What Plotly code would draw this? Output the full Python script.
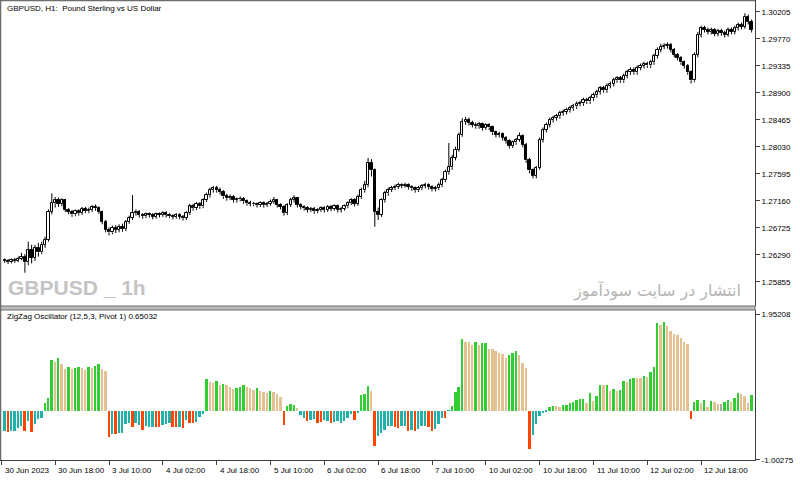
import plotly.graph_objects as go

# ---------------- data ----------------
closes = [
    1.2619, 1.2617, 1.2620, 1.2619, 1.2622, 1.2625, 1.2617, 1.2637, 1.2624, 1.2640,
    1.2633, 1.2645, 1.2653, 1.2698, 1.2712, 1.2717, 1.2711, 1.2717, 1.2701, 1.2698,
    1.2694, 1.2699, 1.2696, 1.2703, 1.2699, 1.2701, 1.2706, 1.2704, 1.2698, 1.2682,
    1.2669, 1.2665, 1.2672, 1.2669, 1.2674, 1.2670, 1.2682, 1.2688, 1.2696, 1.2698,
    1.2693, 1.2691, 1.2694, 1.2693, 1.2690, 1.2694, 1.2693, 1.2696, 1.2693, 1.2691,
    1.2690, 1.2693, 1.2690, 1.2688, 1.2696, 1.2707, 1.2704, 1.2711, 1.2707, 1.2717,
    1.2725, 1.2733, 1.2736, 1.2733, 1.2730, 1.2723, 1.2720, 1.2722, 1.2717, 1.2718,
    1.2719, 1.2715, 1.2712, 1.2711, 1.2710, 1.2709, 1.2712, 1.2709, 1.2711, 1.2714,
    1.2717, 1.2709, 1.2706, 1.2696, 1.2709, 1.2717, 1.2720, 1.2709, 1.2706, 1.2704,
    1.2701, 1.2703, 1.2699, 1.2701, 1.2704, 1.2701, 1.2706, 1.2703, 1.2707, 1.2701,
    1.2703, 1.2707, 1.2712, 1.2717, 1.2711, 1.2722, 1.2733, 1.2741, 1.2777, 1.2765,
    1.2698, 1.2693, 1.2717, 1.2728, 1.2733, 1.2736, 1.2738, 1.2741, 1.2740, 1.2741,
    1.2738, 1.2736, 1.2733, 1.2736, 1.2740, 1.2741, 1.2738, 1.2735, 1.2736, 1.2741,
    1.2749, 1.2762, 1.2770, 1.2785, 1.2798, 1.2822, 1.2843, 1.2846, 1.2841, 1.2838,
    1.2836, 1.2839, 1.2833, 1.2838, 1.2834, 1.2826, 1.2822, 1.2823, 1.2817, 1.2812,
    1.2804, 1.2810, 1.2814, 1.2820, 1.2806, 1.2781, 1.2765, 1.2756, 1.2769, 1.2814,
    1.2830, 1.2838, 1.2846, 1.2849, 1.2852, 1.2857, 1.2859, 1.2862, 1.2865, 1.2868,
    1.2872, 1.2873, 1.2878, 1.2876, 1.2881, 1.2886, 1.2891, 1.2897, 1.2894, 1.2901,
    1.2904, 1.2910, 1.2913, 1.2910, 1.2917, 1.2923, 1.2927, 1.2923, 1.2930, 1.2933,
    1.2936, 1.2934, 1.2939, 1.2949, 1.2959, 1.2964, 1.2966, 1.2967, 1.2959, 1.2951,
    1.2946, 1.2939, 1.2933, 1.2923, 1.2910, 1.2951, 1.2983, 1.2994, 1.2991, 1.2988,
    1.2991, 1.2985, 1.2989, 1.2986, 1.2983, 1.2991, 1.2988, 1.2994, 1.2999, 1.2996,
    1.3012, 1.3004, 1.2991,
]

opens = [
    1.2620, 1.2619, 1.2617, 1.2620, 1.2619, 1.2622, 1.2625, 1.2617, 1.2637, 1.2624,
    1.2640, 1.2633, 1.2645, 1.2653, 1.2698, 1.2712, 1.2717, 1.2711, 1.2717, 1.2701,
    1.2698, 1.2694, 1.2699, 1.2696, 1.2703, 1.2699, 1.2701, 1.2706, 1.2704, 1.2698,
    1.2682, 1.2669, 1.2665, 1.2672, 1.2669, 1.2674, 1.2670, 1.2682, 1.2688, 1.2696,
    1.2698, 1.2693, 1.2691, 1.2694, 1.2693, 1.2690, 1.2694, 1.2693, 1.2696, 1.2693,
    1.2691, 1.2690, 1.2693, 1.2690, 1.2688, 1.2696, 1.2707, 1.2704, 1.2711, 1.2707,
    1.2717, 1.2725, 1.2733, 1.2736, 1.2733, 1.2730, 1.2723, 1.2720, 1.2722, 1.2717,
    1.2718, 1.2719, 1.2715, 1.2712, 1.2711, 1.2710, 1.2709, 1.2712, 1.2709, 1.2711,
    1.2714, 1.2717, 1.2709, 1.2706, 1.2696, 1.2709, 1.2717, 1.2720, 1.2709, 1.2706,
    1.2704, 1.2701, 1.2703, 1.2699, 1.2701, 1.2704, 1.2701, 1.2706, 1.2703, 1.2707,
    1.2701, 1.2703, 1.2707, 1.2712, 1.2717, 1.2711, 1.2722, 1.2733, 1.2741, 1.2777,
    1.2765, 1.2698, 1.2693, 1.2717, 1.2728, 1.2733, 1.2736, 1.2738, 1.2741, 1.2740,
    1.2741, 1.2738, 1.2736, 1.2733, 1.2736, 1.2740, 1.2741, 1.2738, 1.2735, 1.2736,
    1.2741, 1.2749, 1.2762, 1.2770, 1.2785, 1.2798, 1.2822, 1.2843, 1.2846, 1.2841,
    1.2838, 1.2836, 1.2839, 1.2833, 1.2838, 1.2834, 1.2826, 1.2822, 1.2823, 1.2817,
    1.2812, 1.2804, 1.2810, 1.2814, 1.2820, 1.2806, 1.2781, 1.2765, 1.2756, 1.2769,
    1.2814, 1.2830, 1.2838, 1.2846, 1.2849, 1.2852, 1.2857, 1.2859, 1.2862, 1.2865,
    1.2868, 1.2872, 1.2873, 1.2878, 1.2876, 1.2881, 1.2886, 1.2891, 1.2897, 1.2894,
    1.2901, 1.2904, 1.2910, 1.2913, 1.2910, 1.2917, 1.2923, 1.2927, 1.2923, 1.2930,
    1.2933, 1.2936, 1.2934, 1.2939, 1.2949, 1.2959, 1.2964, 1.2966, 1.2967, 1.2959,
    1.2951, 1.2946, 1.2939, 1.2933, 1.2923, 1.2910, 1.2951, 1.2983, 1.2994, 1.2991,
    1.2988, 1.2991, 1.2985, 1.2989, 1.2986, 1.2983, 1.2991, 1.2988, 1.2994, 1.2999,
    1.2996, 1.3012, 1.3004,
]

highs = [
    1.2623, 1.2622, 1.2623, 1.2624, 1.2626, 1.2632, 1.2630, 1.2650, 1.2645, 1.2645,
    1.2648, 1.2650, 1.2658, 1.2702, 1.2728, 1.2722, 1.2721, 1.2720, 1.2719, 1.2704,
    1.2701, 1.2702, 1.2702, 1.2706, 1.2706, 1.2705, 1.2709, 1.2710, 1.2707, 1.2700,
    1.2685, 1.2673, 1.2676, 1.2677, 1.2678, 1.2679, 1.2685, 1.2692, 1.2725, 1.2702,
    1.2701, 1.2696, 1.2697, 1.2697, 1.2696, 1.2697, 1.2697, 1.2699, 1.2699, 1.2696,
    1.2694, 1.2696, 1.2696, 1.2693, 1.2699, 1.2711, 1.2711, 1.2714, 1.2714, 1.2720,
    1.2729, 1.2737, 1.2740, 1.2740, 1.2737, 1.2733, 1.2727, 1.2726, 1.2725, 1.2721,
    1.2723, 1.2722, 1.2718, 1.2716, 1.2714, 1.2713, 1.2715, 1.2715, 1.2714, 1.2718,
    1.2722, 1.2719, 1.2712, 1.2709, 1.2712, 1.2721, 1.2725, 1.2722, 1.2712, 1.2709,
    1.2707, 1.2706, 1.2706, 1.2704, 1.2707, 1.2707, 1.2709, 1.2709, 1.2710, 1.2710,
    1.2706, 1.2710, 1.2715, 1.2720, 1.2720, 1.2726, 1.2737, 1.2748, 1.2785, 1.2783,
    1.2768, 1.2705, 1.2720, 1.2732, 1.2737, 1.2740, 1.2742, 1.2745, 1.2744, 1.2745,
    1.2744, 1.2741, 1.2739, 1.2740, 1.2743, 1.2745, 1.2744, 1.2741, 1.2740, 1.2745,
    1.2753, 1.2766, 1.2809, 1.2790, 1.2803, 1.2826, 1.2849, 1.2851, 1.2850, 1.2845,
    1.2842, 1.2843, 1.2842, 1.2841, 1.2841, 1.2837, 1.2829, 1.2827, 1.2826, 1.2820,
    1.2815, 1.2813, 1.2817, 1.2826, 1.2823, 1.2809, 1.2785, 1.2768, 1.2772, 1.2818,
    1.2834, 1.2842, 1.2850, 1.2853, 1.2856, 1.2861, 1.2863, 1.2866, 1.2869, 1.2872,
    1.2876, 1.2877, 1.2882, 1.2882, 1.2885, 1.2890, 1.2895, 1.2901, 1.2901, 1.2905,
    1.2908, 1.2914, 1.2917, 1.2917, 1.2921, 1.2927, 1.2931, 1.2931, 1.2934, 1.2937,
    1.2940, 1.2940, 1.2943, 1.2953, 1.2963, 1.2969, 1.2970, 1.2971, 1.2970, 1.2962,
    1.2954, 1.2949, 1.2942, 1.2936, 1.2926, 1.2955, 1.2988, 1.2998, 1.2998, 1.2995,
    1.2995, 1.2994, 1.2993, 1.2993, 1.2990, 1.2995, 1.2995, 1.2998, 1.3003, 1.3003,
    1.3018, 1.3016, 1.3008,
]

lows = [
    1.2616, 1.2614, 1.2615, 1.2616, 1.2617, 1.2620, 1.2600, 1.2612, 1.2615, 1.2619,
    1.2626, 1.2630, 1.2640, 1.2650, 1.2694, 1.2705, 1.2706, 1.2707, 1.2698, 1.2694,
    1.2690, 1.2691, 1.2692, 1.2693, 1.2696, 1.2696, 1.2698, 1.2700, 1.2695, 1.2678,
    1.2665, 1.2660, 1.2662, 1.2664, 1.2665, 1.2666, 1.2667, 1.2679, 1.2685, 1.2692,
    1.2689, 1.2687, 1.2688, 1.2689, 1.2686, 1.2687, 1.2689, 1.2690, 1.2689, 1.2688,
    1.2686, 1.2687, 1.2686, 1.2684, 1.2685, 1.2693, 1.2700, 1.2701, 1.2703, 1.2704,
    1.2714, 1.2721, 1.2729, 1.2729, 1.2726, 1.2719, 1.2716, 1.2717, 1.2713, 1.2713,
    1.2715, 1.2711, 1.2708, 1.2707, 1.2707, 1.2705, 1.2706, 1.2705, 1.2706, 1.2708,
    1.2711, 1.2705, 1.2702, 1.2692, 1.2693, 1.2706, 1.2713, 1.2705, 1.2702, 1.2700,
    1.2697, 1.2698, 1.2695, 1.2696, 1.2698, 1.2697, 1.2698, 1.2699, 1.2700, 1.2697,
    1.2697, 1.2700, 1.2704, 1.2709, 1.2707, 1.2708, 1.2719, 1.2729, 1.2738, 1.2755,
    1.2674, 1.2685, 1.2690, 1.2713, 1.2724, 1.2730, 1.2733, 1.2735, 1.2736, 1.2737,
    1.2734, 1.2732, 1.2729, 1.2730, 1.2733, 1.2736, 1.2734, 1.2731, 1.2731, 1.2733,
    1.2738, 1.2746, 1.2758, 1.2766, 1.2781, 1.2795, 1.2819, 1.2838, 1.2837, 1.2834,
    1.2832, 1.2832, 1.2829, 1.2830, 1.2830, 1.2822, 1.2818, 1.2818, 1.2813, 1.2808,
    1.2800, 1.2801, 1.2806, 1.2811, 1.2802, 1.2777, 1.2760, 1.2752, 1.2752, 1.2766,
    1.2810, 1.2826, 1.2834, 1.2842, 1.2845, 1.2848, 1.2853, 1.2855, 1.2858, 1.2861,
    1.2864, 1.2868, 1.2869, 1.2872, 1.2872, 1.2877, 1.2882, 1.2887, 1.2890, 1.2890,
    1.2897, 1.2900, 1.2906, 1.2906, 1.2906, 1.2913, 1.2919, 1.2919, 1.2919, 1.2926,
    1.2929, 1.2930, 1.2930, 1.2935, 1.2945, 1.2955, 1.2960, 1.2961, 1.2955, 1.2947,
    1.2942, 1.2935, 1.2929, 1.2919, 1.2905, 1.2907, 1.2947, 1.2979, 1.2987, 1.2984,
    1.2984, 1.2981, 1.2981, 1.2982, 1.2979, 1.2980, 1.2984, 1.2984, 1.2990, 1.2992,
    1.2993, 1.3000, 1.2987,
]

osc_values = [
    -0.41, -0.43, -0.42, -0.41, -0.36, -0.32, -0.41, -0.22, -0.43, -0.27,
    -0.18, -0.16, 0.15, 0.26, 1.02, 0.98, 1.06, 0.95, 0.84, 0.89,
    0.84, 0.86, 0.89, 0.86, 0.83, 0.89, 0.86, 0.91, 0.94, 0.84,
    0.81, -0.53, -0.48, -0.48, -0.46, -0.45, -0.27, -0.26, -0.33, -0.26,
    -0.30, -0.39, -0.31, -0.33, -0.33, -0.33, -0.33, -0.30, -0.28, -0.26,
    -0.33, -0.33, -0.34, -0.36, -0.19, -0.26, -0.26, -0.23, -0.14, -0.07,
    0.64, 0.57, 0.55, 0.60, 0.51, 0.53, 0.51, 0.48, 0.43, 0.45,
    0.47, 0.51, 0.47, 0.45, 0.42, 0.45, 0.40, 0.38, 0.36, 0.40,
    0.37, 0.33, 0.28, -0.30, 0.10, 0.14, 0.12, 0.06, -0.10, -0.15,
    -0.22, -0.20, -0.18, -0.25, -0.23, -0.20, -0.22, -0.26, -0.24, -0.22,
    -0.25, -0.22, -0.15, -0.08, -0.20, -0.05, 0.31, 0.33, 0.49, 0.39,
    -0.71, -0.51, -0.45, -0.39, -0.32, -0.32, -0.34, -0.35, -0.32, -0.32,
    -0.41, -0.39, -0.42, -0.37, -0.32, -0.32, -0.34, -0.41, -0.37, -0.27,
    -0.15, -0.15, -0.01, 0.09, 0.37, 0.48, 1.46, 1.40, 1.38, 1.32,
    1.38, 1.32, 1.36, 1.36, 1.25, 1.25, 1.21, 1.16, 1.14, 1.06,
    1.12, 1.17, 1.21, 1.13, 0.96, 0.87, -0.78, -0.50, -0.27, -0.12,
    -0.05, -0.02, 0.07, 0.10, 0.10, 0.07, 0.12, 0.12, 0.16, 0.17,
    0.22, 0.23, 0.23, 0.15, 0.35, 0.20, 0.30, 0.52, 0.52, 0.52,
    0.39, 0.43, 0.39, 0.41, 0.59, 0.57, 0.64, 0.66, 0.66, 0.66,
    0.71, 0.69, 0.79, 0.89, 1.78, 1.74, 1.79, 1.71, 1.61, 1.56,
    1.54, 1.47, 1.38, 1.34, -0.18, 0.18, 0.22, 0.15, 0.22, 0.08,
    0.20, 0.18, 0.14, 0.14, 0.18, 0.22, 0.18, 0.26, 0.35, 0.33,
    0.30, 0.16, 0.32,
]

# g = rising above zero, t = falling above zero, c = teal, o = orange-red, s = silver
osc_codes = list(
    "coccccococ" "ccgggtgttg" "tggttgtggt" "tococcccoc" "cocccooccc"
    "oococooccc" "gttgtgtttg" "ggtttgtttg" "tttogggtcc" "occooccocc"
    "ccccocgggt" "occcccoocc" "ococccoocc" "cocggggttt" "gtggtttttt"
    "gggtttoccc" "ccggttgggg" "gggtgtggtg" "tgtggtggtt" "gtgggtgttt"
    "ttttoggtgt" "gttsggtggt" "ttg"
)

time_labels = ["30 Jun 2023", "30 Jun 18:00", "3 Jul 10:00", "4 Jul 02:00", "4 Jul 18:00",
               "5 Jul 10:00", "6 Jul 02:00", "6 Jul 18:00", "7 Jul 10:00", "10 Jul 02:00",
               "10 Jul 18:00", "11 Jul 10:00", "12 Jul 02:00", "12 Jul 18:00"]
time_label_bars = [-0.9, 15, 31, 47, 63, 79, 95, 111, 127, 143, 159, 175, 191, 207]

price_ticks = [1.30205, 1.29770, 1.29335, 1.28900, 1.28465, 1.28030,
               1.27595, 1.27160, 1.26725, 1.26290, 1.25855]
osc_ticks = [1.95208, -1.00275]

# ---------------- styling ----------------
FONT = "Liberation Sans, Arial, sans-serif"
COLORS = {"g": "#32CD32", "t": "#E3C193", "c": "#20B2AA", "o": "#FF4500", "s": "#A9A9A9"}

n = len(closes)
bars = list(range(n))

bull_x, bull_b, bull_h = [], [], []
bear_x, bear_b, bear_h = [], [], []
wick_x, wick_y = [], []
for i in bars:
    o, h, l, c = opens[i], highs[i], lows[i], closes[i]
    lo, hi = min(o, c), max(o, c)
    size = max(hi - lo, 0.00004)
    if c >= o:
        bull_x.append(i); bull_b.append(lo); bull_h.append(size)
    else:
        bear_x.append(i); bear_b.append(lo); bear_h.append(size)
    wick_x += [i, i, None, i, i, None]
    wick_y += [hi, h, None, l, lo, None]

fig = go.Figure()
fig.add_trace(go.Scatter(x=wick_x, y=wick_y, mode="lines",
                         line=dict(color="black", width=1), hoverinfo="skip",
                         xaxis="x", yaxis="y", showlegend=False))
fig.add_trace(go.Bar(x=bull_x, y=bull_h, base=bull_b, width=0.68,
                     marker=dict(color="white", line=dict(color="black", width=1)),
                     xaxis="x", yaxis="y", showlegend=False))
fig.add_trace(go.Bar(x=bear_x, y=bear_h, base=bear_b, width=0.68,
                     marker=dict(color="black", line=dict(color="black", width=1)),
                     xaxis="x", yaxis="y", showlegend=False))
fig.add_trace(go.Bar(x=bars, y=osc_values, width=0.56,
                     marker=dict(color=[COLORS[k] for k in osc_codes], line=dict(width=0)),
                     xaxis="x2", yaxis="y2", showlegend=False))

XR = [-1.4, 223.0]
H = 460.0  # plot-area height in px
top_dom = [(H - 306) / H, 1]
bot_dom = [0, (H - 310) / H]

axis_font = dict(family=FONT, size=8, color="black")
fig.update_layout(
    width=800, height=481,
    margin=dict(l=0, r=45, t=0, b=21, pad=0),
    paper_bgcolor="white", plot_bgcolor="white",
    barmode="overlay", bargap=0,
    xaxis=dict(domain=[0, 1], range=XR, anchor="y", showticklabels=False,
               showgrid=False, zeroline=False, ticks="", showline=False, matches="x2"),
    xaxis2=dict(domain=[0, 1], range=XR, anchor="y2", showgrid=False, zeroline=False,
                showline=True, linecolor="#404040", linewidth=1,
                ticks="outside", ticklen=4, tickcolor="#404040",
                tickvals=time_label_bars, showticklabels=False),
    yaxis=dict(domain=top_dom, range=[1.25464, 1.30394], side="right", anchor="x",
               showgrid=False, zeroline=False, showline=True, linecolor="#404040",
               ticks="outside", ticklen=4, tickcolor="#404040",
               tickvals=price_ticks, ticktext=[f"{v:.5f}" for v in price_ticks],
               tickfont=axis_font),
    yaxis2=dict(domain=bot_dom, range=[-1.004, 2.039], side="right", anchor="x2",
                showgrid=False, zeroline=False, showline=True, linecolor="#404040",
                ticks="outside", ticklen=4, tickcolor="#404040",
                tickvals=osc_ticks, ticktext=[f"{v:.5f}" for v in osc_ticks],
                tickfont=axis_font),
)

ann = []
for pos, txt in zip(time_label_bars, time_labels):
    ann.append(dict(x=pos, xref="x2", y=-10.5 / H, yref="paper", text=txt,
                    showarrow=False, xanchor="left", yanchor="middle", xshift=1,
                    font=axis_font))
ann.append(dict(x=5 / 755, xref="paper", y=(H - 8) / H, yref="paper",
                text="GBPUSD, H1:\u00a0 Pound Sterling vs US Dollar", showarrow=False,
                xanchor="left", yanchor="middle", font=axis_font))
ann.append(dict(x=5 / 755, xref="paper", y=(H - 316.5) / H, yref="paper",
                text="ZigZag Oscillator (12,5,3, Pivot 1) 0.65032", showarrow=False,
                xanchor="left", yanchor="middle", font=axis_font))
ann.append(dict(x=6 / 755, xref="paper", y=(H - 287) / H, yref="paper",
                text="<b>GBPUSD _ 1h</b>", showarrow=False, xanchor="left", yanchor="middle",
                font=dict(family="Liberation Sans, Arial, sans-serif",
                          size=21, color="#C4C4C4")))
ann.append(dict(x=743 / 755, xref="paper", y=(H - 291) / H, yref="paper",
                text="انتشار در سایت سودآموز", showarrow=False, xanchor="right", yanchor="middle",
                font=dict(family="DejaVu Sans, Noto Sans, sans-serif", size=16, color="#B4B4B4")))
fig.update_layout(annotations=ann)

shapes = [
    dict(type="rect", xref="paper", yref="paper", x0=0, x1=1,
         y0=bot_dom[1], y1=top_dom[0], fillcolor="#BDBDBD",
         line=dict(color="#6E6E6E", width=1), layer="above"),
    dict(type="line", xref="paper", yref="paper", x0=0.0007, x1=0.0007, y0=0, y1=1,
         line=dict(color="#6E6E6E", width=1.5)),
    dict(type="line", xref="paper", yref="paper", x0=0, x1=1, y0=0.999, y1=0.999,
         line=dict(color="#6E6E6E", width=1.5)),
]
fig.update_layout(shapes=shapes)

fig.write_html("out.html")
